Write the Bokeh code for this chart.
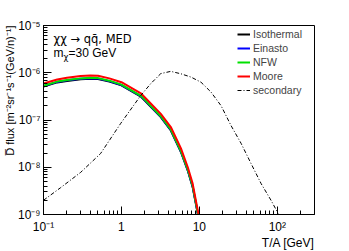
from bokeh.plotting import figure
from bokeh.models import Label, Legend, LegendItem, CustomJSTickFormatter, Title
from bokeh.embed import file_html
from bokeh.resources import INLINE

# ---- data ----
prim_x = [0.1, 0.15, 0.2, 0.3, 0.4, 0.5, 0.7, 1.0, 1.8, 3.2, 4.3, 5.8, 7.1, 8.2, 9.0, 9.7, 10.3]
moore = [5.9e-7, 7.2e-7, 7.8e-7, 8.5e-7, 8.7e-7, 8.6e-7, 7.6e-7, 6.3e-7, 3.6e-7, 1.35e-7,
         7.1e-8, 2.5e-8, 1.0e-8, 4.5e-9, 2.0e-9, 1.05e-9, 3e-10]
nfw = [5.3e-7, 6.5e-7, 7.0e-7, 7.6e-7, 7.8e-7, 7.7e-7, 6.8e-7, 5.6e-7, 3.2e-7, 1.2e-7,
       6.3e-8, 2.2e-8, 8.9e-9, 4.0e-9, 1.8e-9, 9.3e-10, 2.7e-10]
einasto = [5.2e-7, 6.4e-7, 6.9e-7, 7.45e-7, 7.65e-7, 7.55e-7, 6.65e-7, 5.5e-7, 3.15e-7, 1.18e-7,
           6.2e-8, 2.15e-8, 8.7e-9, 3.9e-9, 1.76e-9, 9.1e-10, 2.6e-10]
isothermal = [5.1e-7, 6.25e-7, 6.7e-7, 7.3e-7, 7.5e-7, 7.4e-7, 6.5e-7, 5.4e-7, 3.07e-7, 1.15e-7,
              6.0e-8, 2.1e-8, 8.5e-9, 3.8e-9, 1.7e-9, 8.9e-10, 2.5e-10]
sec_x = [0.1, 0.166, 0.3, 0.54, 0.98, 1.77, 2.38, 3.2, 4.3, 5.8, 7.8, 10.5, 14.1, 19, 25.5,
         34.3, 46, 62, 83, 101, 115]
secondary = [2.0e-9, 3.7e-9, 7.8e-9, 1.95e-8, 8.5e-8, 3.3e-7, 5.9e-7, 9.6e-7, 1.07e-6, 9.5e-7,
             8.1e-7, 6.3e-7, 3.9e-7, 2.0e-7, 7.6e-8, 3.2e-8, 1.2e-8, 4.5e-9, 2.0e-9, 1.1e-9, 3e-10]

series = [("Isothermal", isothermal, "#000000"),
          ("Einasto", einasto, "#0000ff"),
          ("NFW", nfw, "#00e000"),
          ("Moore", moore, "#ff0000")]

FONT = "Liberation Sans"

p = figure(width=349, height=251, x_axis_type="log", y_axis_type="log",
           x_range=(0.1, 300), y_range=(1e-9, 1e-5),
           output_backend="svg", toolbar_location=None,
           min_border_left=43, min_border_right=35, min_border_top=25, min_border_bottom=37)
p.grid.visible = False
p.outline_line_color = "black"
p.outline_line_width = 1
p.background_fill_color = "white"
p.border_fill_color = "white"

fmt = CustomJSTickFormatter(code="""
const e = Math.round(Math.log10(tick));
const sup = {"-":"\u207b","0":"\u2070","1":"\u00b9","2":"\u00b2","3":"\u00b3","4":"\u2074",
             "5":"\u2075","6":"\u2076","7":"\u2077","8":"\u2078","9":"\u2079"};
if (e == 0) return "1";
if (e == 1) return "10";
return "10" + String(e).split("").map(c => sup[c]).join("");
""")

for ax in (p.xaxis[0], p.yaxis[0]):
    ax.formatter = fmt
    ax.major_tick_in = 8
    ax.major_tick_out = 0
    ax.minor_tick_in = 4
    ax.minor_tick_out = 0
    ax.axis_line_color = "black"
    ax.major_tick_line_color = "black"
    ax.minor_tick_line_color = "black"
    ax.major_label_text_font = FONT
    ax.major_label_text_font_size = "12px"
    ax.major_label_text_color = "black"

p.xaxis[0].major_label_standoff = 5
p.yaxis[0].major_label_standoff = 3

# axis titles (right / top aligned, ROOT style)
p.add_layout(Title(text="T/A [GeV]", align="right", text_font=FONT, text_font_size="12px",
                   text_font_style="normal", text_color="black", standoff=-5, offset=0), "below")
p.add_layout(Title(text="D\u0305 flux [m\u207b\u00b2sr\u207b\u00b9s\u207b\u00b9(GeV/n)\u207b\u00b9]",
                   align="right", text_font=FONT, text_font_size="11px",
                   text_font_style="normal", text_color="black", standoff=0, offset=0), "left")

items = []
for name, ys, col in series:
    r = p.line(prim_x, ys, line_color=col, line_width=2)
    items.append(LegendItem(label=name, renderers=[r]))
rs = p.line(sec_x, secondary, line_color="black", line_width=1, line_dash="4 2 1 2")
items.append(LegendItem(label="secondary", renderers=[rs]))

leg = Legend(items=items, location=(194, 117), padding=0, spacing=0, margin=0,
             glyph_width=13, glyph_height=14, label_height=14, label_standoff=3,
             border_line_color=None, background_fill_alpha=0,
             label_text_font=FONT, label_text_font_size="10.5px")
p.add_layout(leg)

# annotations
p.add_layout(Label(x=10, y=176, x_units="screen", y_units="screen",
                   text="\u03c7\u03c7 \u2192 qq\u0304, MED", text_baseline="middle",
                   text_font="DejaVu Sans", text_font_size="11.5px", text_color="black"))
p.add_layout(Label(x=10, y=162, x_units="screen", y_units="screen",
                   text="m", text_baseline="middle",
                   text_font=FONT, text_font_size="12px", text_color="black"))
p.add_layout(Label(x=20, y=158, x_units="screen", y_units="screen",
                   text="\u03c7", text_baseline="middle",
                   text_font="DejaVu Sans", text_font_size="8.5px", text_color="black"))
p.add_layout(Label(x=25, y=162, x_units="screen", y_units="screen",
                   text="=30 GeV", text_baseline="middle",
                   text_font=FONT, text_font_size="12px", text_color="black"))

open("out.html", "w").write(file_html(p, INLINE))
